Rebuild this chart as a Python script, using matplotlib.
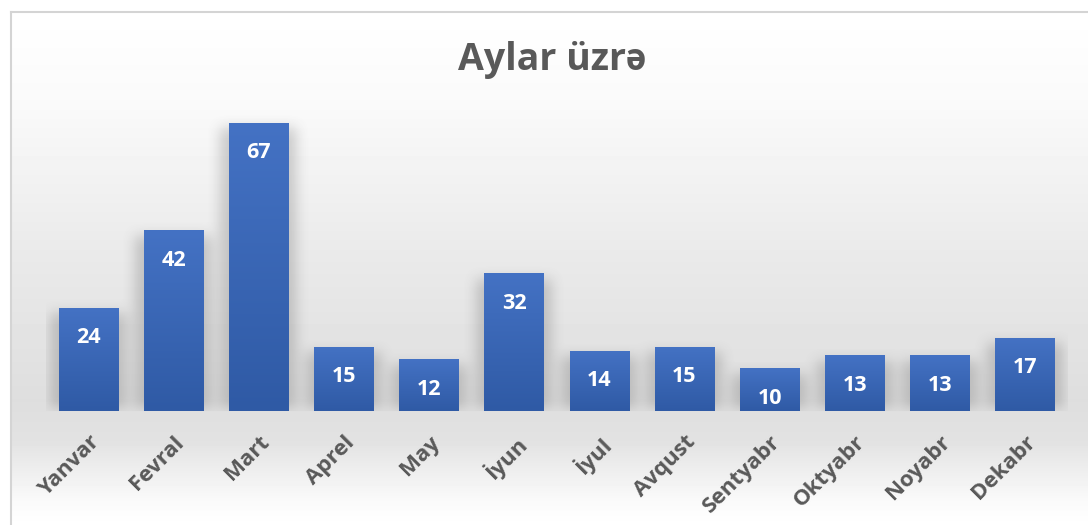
import numpy as np
import matplotlib
matplotlib.use("Agg")
import matplotlib.pyplot as plt
from matplotlib.colors import LinearSegmentedColormap

months = ["Yanvar", "Fevral", "Mart", "Aprel", "May", "İyun", "İyul",
          "Avqust", "Sentyabr", "Oktyabr", "Noyabr", "Dekabr"]
values = [24, 42, 67, 15, 12, 32, 14, 15, 10, 13, 13, 17]
title = "Aylar üzrə"

W, H = 1088, 525
fig = plt.figure(figsize=(W / 100, H / 100), dpi=100)

# background gradient
bg = fig.add_axes([0, 0, 1, 1])
bg.set_xlim(0, W)
bg.set_ylim(H, 0)
bg.axis("off")
ys = np.arange(H)
stops_y = [0, 12, 100, 250, 400, 440, 500, 525]
stops_v = [255, 255, 250, 234, 222, 226, 250, 255]
col = np.interp(ys, stops_y, stops_v) / 255.0
img = np.repeat(col[:, None], W, axis=1)
img[:12, :] = 1.0
img[:, :11] = 1.0
bg.imshow(img, cmap="gray", vmin=0, vmax=1, extent=[0, W, H, 0], aspect="auto", zorder=0)
bg.plot([11, 11], [12, H], color="#d4d4d4", lw=1.5, zorder=1)
bg.plot([11, W], [12, 12], color="#d4d4d4", lw=1.5, zorder=1)

ax = fig.add_axes([45.9 / W, 114 / H, 1021.7 / W, 322.5 / H])
ax.patch.set_alpha(0)
x = np.arange(len(months))
ax.set_xlim(-0.5, len(months) - 0.5)
ax.set_ylim(0, 75)

# soft shadows derived from bar geometry
bw = 0.70
sh_w, sh_h = 1021, 340
shadow = np.zeros((sh_h, sh_w))
px_per_x = sh_w / len(months)
px_per_y = 322.5 / 75
for xi, v in zip(x, values):
    x0 = int((xi + 0.5 - bw / 2) * px_per_x) - 8
    x1 = int((xi + 0.5 + bw / 2) * px_per_x) + 8
    top = int(sh_h - v * px_per_y) + 6
    shadow[top:sh_h - 2, max(x0, 0):min(x1, sh_w)] = 1.0
def blur(a, r, axis):
    k = np.ones(2 * r + 1) / (2 * r + 1)
    return np.apply_along_axis(lambda m: np.convolve(m, k, mode="same"), axis, a)
for _ in range(2):
    shadow = blur(shadow, 7, 1)
    shadow = blur(shadow, 7, 0)
rgba = np.zeros((sh_h, sh_w, 4))
rgba[..., :3] = 0.35
rgba[..., 3] = shadow * 0.28
ax.imshow(rgba, extent=[-0.5, len(months) - 0.5, 0, sh_h / px_per_y], aspect="auto",
          zorder=1, origin="upper")

bars = ax.bar(x, values, width=bw, color="#3b66b8", zorder=2)
cmap = LinearSegmentedColormap.from_list("bl", ["#2f5aa5", "#4472c4"])
grad = np.linspace(0, 1, 256)[:, None]
for b in bars:
    bx, by = b.get_x(), b.get_y()
    bwid, bh = b.get_width(), b.get_height()
    im = ax.imshow(grad, cmap=cmap, extent=[bx, bx + bwid, by, by + bh],
                   aspect="auto", origin="lower", zorder=3)
    im.set_clip_path(b)

for xi, v in zip(x, values):
    ax.annotate(str(v), (xi, v), xytext=(0, -30), textcoords="offset pixels",
                ha="center", va="center", color="white", fontsize=15.5,
                fontweight="bold", family=["Open Sans", "DejaVu Sans"], zorder=4)

ax.set_xticks(x)
ax.set_xticklabels(months, rotation=45, ha="right", va="top", rotation_mode="anchor",
                   fontsize=16, fontweight="bold", color="#595959",
                   family=["Open Sans", "DejaVu Sans"])
ax.tick_params(axis="x", length=0, pad=15)
ax.set_yticks([])
for s in ax.spines.values():
    s.set_visible(False)

fig.text(552 / W, 1 - 60 / H, title, ha="center", va="center", fontsize=27,
         fontweight="bold", color="#595959", family=["Open Sans", "Roboto", "DejaVu Sans"])

fig.savefig("out.png", dpi=100)
